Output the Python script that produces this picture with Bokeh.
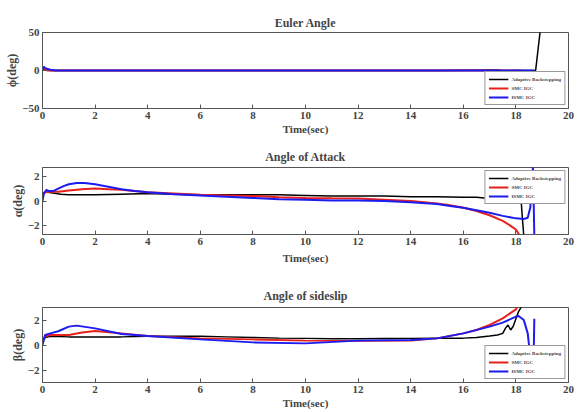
from bokeh.plotting import figure
from bokeh.layouts import column
from bokeh.models import FixedTicker, Range1d, Legend, LegendItem
from bokeh.embed import file_html
from bokeh.resources import INLINE

# ---------------- data ----------------
series_names = ["Adaptive Backstepping", "SMC IGC", "ISMC IGC"]
x_ticks = [0, 2, 4, 6, 8, 10, 12, 14, 16, 18, 20]
phi_ticks = [-50, 0, 50]
alpha_ticks = [-2, 0, 2]
beta_ticks = [-2, 0, 2]

# Euler angle phi (deg)
phi_t_ab = [0, 0.05, 0.15, 0.3, 1, 5, 10, 15, 17.3, 17.6, 18.0, 18.75, 18.95]
phi_ab = [0, 3, 1, 0, 0, 0, 0, 0, 0.6, -0.6, 0, 0, 60]
phi_t_smc = [0, 0.05, 0.2, 5, 10, 15, 18.2]
phi_smc = [0, 2, 0, 0, 0, 0, 0]
phi_t_ismc = [0, 0.05, 0.1, 0.3, 0.5, 5, 10, 15, 18.7]
phi_ismc = [0, 5, 3, 1, 0, 0, 0, 0, 0]

# Angle of attack alpha (deg)
alpha_t_ab = [0, 0.1, 0.2, 0.4, 0.7, 1, 2, 3, 4, 5, 6, 7, 8, 9, 10, 11, 12, 13, 14, 15,
              16, 16.5, 16.8, 17, 17.2, 17.4, 17.6, 17.8, 18, 18.1, 18.2, 18.25, 18.3]
alpha_ab = [0.6, 0.7, 0.7, 0.65, 0.55, 0.5, 0.5, 0.55, 0.6, 0.55, 0.5, 0.5, 0.5, 0.5, 0.45,
            0.4, 0.4, 0.4, 0.35, 0.35, 0.3, 0.3, 0.25, 0.35, 0.2, 0.3, 0.15, 0.3, 0.1, 0.2,
            0.0, -1.5, -2.8]
alpha_t_smc = [0, 0.1, 0.3, 0.6, 1, 1.5, 2, 2.5, 3, 4, 5, 6, 7, 8, 9, 10, 11, 12, 13, 14,
               14.5, 15, 15.5, 16, 16.5, 17, 17.5, 17.8, 18, 18.15]
alpha_smc = [0.5, 0.7, 0.75, 0.75, 0.85, 0.95, 1.0, 0.95, 0.9, 0.7, 0.6, 0.5, 0.45, 0.4,
             0.3, 0.25, 0.22, 0.2, 0.1, 0.0, -0.1, -0.2, -0.35, -0.55, -0.8, -1.15, -1.6,
             -2.0, -2.3, -2.8]
alpha_t_ismc = [0, 0.05, 0.15, 0.25, 0.4, 0.6, 0.8, 1, 1.3, 1.6, 2, 2.5, 3, 3.5, 4, 5, 6,
                7, 8, 9, 10, 11, 12, 13, 14, 15, 15.5, 16, 16.5, 17, 17.5, 18, 18.3, 18.45,
                18.55, 18.6, 18.65, 18.7]
alpha_ismc = [0, 0.6, 0.9, 0.8, 0.8, 1.0, 1.2, 1.35, 1.45, 1.45, 1.35, 1.15, 0.95, 0.8,
              0.7, 0.55, 0.45, 0.35, 0.25, 0.15, 0.1, 0.05, 0.05, 0.0, -0.1, -0.25, -0.4,
              -0.55, -0.75, -0.95, -1.2, -1.4, -1.45, -1.35, -0.5, 1.5, 2.8, -2.8]

# Angle of sideslip beta (deg)
beta_t_ab = [0, 0.1, 0.3, 1, 2, 3, 4, 5, 6, 7, 8, 9, 10, 11, 12, 13, 14, 15, 16, 16.5, 17,
             17.3, 17.5, 17.6, 17.7, 17.8, 17.9, 18, 18.1, 18.25]
beta_ab = [0.3, 0.6, 0.7, 0.65, 0.65, 0.65, 0.7, 0.7, 0.7, 0.65, 0.6, 0.55, 0.53, 0.5, 0.5,
           0.52, 0.53, 0.55, 0.55, 0.6, 0.72, 0.8, 0.93, 1.33, 1.6, 1.2, 1.5, 2.1, 2.67, 3.2]
beta_t_smc = [0, 0.1, 0.3, 1, 1.5, 2, 3, 4, 6, 8, 10, 12, 14, 15, 16, 16.5, 17, 17.5, 18,
              18.1]
beta_smc = [0.3, 0.7, 0.8, 0.8, 1.0, 1.12, 0.93, 0.72, 0.53, 0.45, 0.35, 0.33, 0.35, 0.53,
            0.93, 1.2, 1.6, 2.13, 2.85, 3.2]
beta_t_ismc = [0, 0.1, 0.3, 0.6, 1, 1.3, 2, 3, 4, 6, 8, 10, 12, 14, 15, 16, 17, 17.5, 18,
               18.1, 18.3, 18.45, 18.55, 18.62, 18.68, 18.7]
beta_ismc = [0, 0.8, 0.93, 1.1, 1.47, 1.55, 1.33, 0.88, 0.72, 0.45, 0.21, 0.13, 0.35, 0.4,
             0.53, 0.93, 1.47, 1.79, 2.27, 2.32, 2.0, 0.93, -1.0, -2.0, -0.5, 2.1]

# ---------------- styling ----------------
FONT = "Liberation Serif"
COLORS = ["black", "#e8201c", "#1c1cf0"]
WIDTHS = [1.5, 2.0, 2.0]


def make_panel(title, ylabel, yr, yticks, data, legend_loc, top, frame_h, bottom,
               title_standoff, xlabel_standoff):
    p = figure(width=576, height=top + frame_h + bottom,
               x_range=Range1d(0, 20), y_range=Range1d(*yr),
               output_backend="svg", toolbar_location=None,
               min_border_left=42, min_border_right=8,
               min_border_top=top, min_border_bottom=bottom)
    p.title.text = title
    p.title.align = "center"
    p.title.text_font = FONT
    p.title.text_font_size = "12px"
    p.title.text_font_style = "bold"
    p.title.standoff = title_standoff
    p.grid.visible = False
    p.outline_line_color = "#555555"
    p.background_fill_color = "white"

    for ax, ticks in ((p.xaxis[0], x_ticks), (p.yaxis[0], yticks)):
        ax.ticker = FixedTicker(ticks=ticks)
        ax.major_tick_in = 4
        ax.major_tick_out = 0
        ax.minor_tick_line_color = None
        ax.axis_line_color = "#555555"
        ax.major_tick_line_color = "#555555"
        ax.major_label_text_font = FONT
        ax.major_label_text_font_style = "bold"
        ax.major_label_text_font_size = "11px"
        ax.major_label_standoff = 3
        ax.axis_label_text_font = FONT
        ax.axis_label_text_font_style = "bold"
        ax.axis_label_text_font_size = "11px"
    p.xaxis[0].axis_label = "Time(sec)"
    p.xaxis[0].axis_label_standoff = xlabel_standoff
    p.yaxis[0].axis_label = ylabel
    p.yaxis[0].axis_label_standoff = 0
    p.yaxis[0].axis_label_text_font_size = "12px"

    rends = []
    for (t, v), c, w in zip(data, COLORS, WIDTHS):
        rends.append(p.line(t, v, line_color=c, line_width=w))

    legend = Legend(items=[LegendItem(label=n, renderers=[r])
                           for n, r in zip(series_names, rends)],
                    location=legend_loc, margin=3, padding=3, spacing=1,
                    label_text_font=FONT, label_text_font_style="bold",
                    label_text_font_size="5px", label_height=8, glyph_height=8,
                    glyph_width=20, label_standoff=3,
                    border_line_color="#333333", border_line_width=1,
                    background_fill_alpha=1.0)
    p.add_layout(legend)
    return p


p1 = make_panel("Euler Angle", "ϕ(deg)", (-50, 50), phi_ticks,
                [(phi_t_ab, phi_ab), (phi_t_smc, phi_smc), (phi_t_ismc, phi_ismc)],
                "bottom_right", 32, 76, 29, 6, 1)
p2 = make_panel("Angle of Attack", "α(deg)", (-2.7, 2.7), alpha_ticks,
                [(alpha_t_ab, alpha_ab), (alpha_t_smc, alpha_smc), (alpha_t_ismc, alpha_ismc)],
                "top_right", 30, 70, 29, 8, 4)
p3 = make_panel("Angle of sideslip", "β(deg)", (-3, 3), beta_ticks,
                [(beta_t_ab, beta_ab), (beta_t_smc, beta_smc), (beta_t_ismc, beta_ismc)],
                "bottom_right", 41, 76, 28, 9, 1)

layout = column(p1, p2, p3, spacing=0)
open("out.html", "w").write(file_html(layout, INLINE))
